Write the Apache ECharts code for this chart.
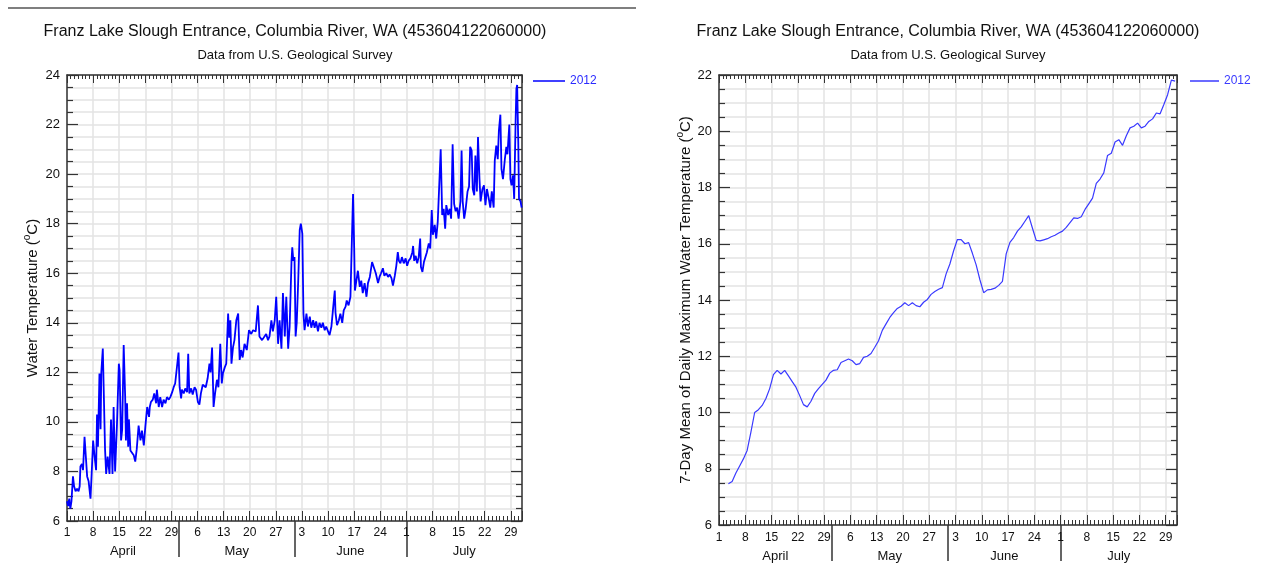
<!DOCTYPE html>
<html>
<head>
<meta charset="utf-8">
<title>Franz Lake Slough Entrance water temperature</title>
<script src="https://cdn.jsdelivr.net/npm/echarts@6/dist/echarts.min.js"></script>
<style>
  html, body { margin: 0; padding: 0; background: #fff; }
  #main { width: 1262px; height: 564px; }
</style>
</head>
<body>
<div id="main"></div>
<script>
// x values are days counted from 1 April 2012 00:00
const monthNames = ["April", "May", "June", "July"];
const monthStarts = [0, 30, 61, 91, 122];
const monthMids = [15, 45.5, 76, 106.5];
const seriesName = "2012";

// water temperature (deg C) as [day, value]
const waterTemp = [
  [0,6.8],[0.3,6.6],[0.6,6.9],[0.9,6.5],[1.2,6.8],[1.6,7.8],[1.9,7.4],[2.3,7.2],[2.7,7.3],[3.1,7.2],
  [3.4,7.4],[3.6,8.2],[4.0,8.3],[4.3,8.05],[4.7,9.4],[5.1,9.4],[5.4,7.8],[5.8,7.6],[6.3,6.9],[6.7,8.2],
  [7.0,9.25],[7.4,8.6],[7.8,8.05],[8.05,10.3],[8.3,9.0],[8.7,11.95],[9.0,9.7],[9.2,12.0],[9.6,12.96],[9.8,12.9],
  [10.2,8.9],[10.5,7.9],[10.9,8.6],[11.4,7.9],[11.8,10.1],[12.2,7.9],[12.5,10.6],[12.9,8.0],[13.4,9.9],[13.9,12.35],
  [14.1,12.1],[14.5,9.25],[14.8,9.7],[15.2,13.1],[15.6,11.0],[15.8,9.25],[16.1,10.75],[16.4,9.0],[16.6,10.1],[17.0,8.85],
  [17.4,8.8],[17.9,8.65],[18.3,8.4],[18.7,8.9],[19.2,9.85],[19.7,9.25],[20.1,9.65],[20.6,9.05],[21.0,9.8],[21.5,10.6],
  [22.0,10.2],[22.2,10.6],[22.5,10.8],[23.0,10.9],[23.4,11.15],[23.9,10.75],[24.1,11.3],[24.6,10.6],[25.0,11.0],[25.5,10.6],
  [25.9,10.9],[26.4,10.75],[26.8,11.0],[27.3,10.9],[27.7,11.0],[28.2,11.2],[28.6,11.4],[29.0,11.55],[29.5,11.5],[29.9,12.8],
  [30.2,11.4],[30.6,10.95],[30.8,11.3],[31.3,11.15],[31.7,11.35],[32.2,11.2],[32.5,12.75],[32.8,11.15],[33.3,11.35],[33.7,11.1],
  [34.2,11.4],[34.6,11.3],[35.1,10.8],[35.5,10.7],[35.9,11.15],[36.4,11.5],[36.8,11.5],[37.2,11.4],[37.7,11.75],[38.2,12.35],
  [38.5,12.0],[38.9,13.0],[39.3,10.6],[39.7,11.15],[40.2,11.7],[40.6,11.4],[41.1,13.15],[41.5,11.55],[41.8,11.95],[42.3,12.2],
  [42.7,12.35],[43.2,14.37],[43.5,13.4],[43.8,14.1],[44.1,12.35],[44.5,13.0],[44.9,13.3],[45.4,14.1],[45.9,14.37],[46.3,12.5],
  [46.7,12.9],[47.1,12.6],[47.6,13.15],[48.2,12.9],[48.8,13.7],[49.4,13.55],[49.9,13.7],[50.6,13.65],[51.2,14.7],[51.6,13.45],
  [52.3,13.3],[52.8,13.35],[53.4,13.55],[53.9,13.3],[54.3,13.45],[54.8,14.1],[55.2,13.65],[55.7,14.1],[56.1,15.05],[56.6,13.15],
  [57.0,14.1],[57.5,12.95],[57.9,15.2],[58.4,13.45],[58.8,15.05],[59.3,12.95],[59.7,13.85],[60.2,16.5],[60.4,17.05],[60.7,16.5],
  [61.0,16.65],[61.3,13.45],[61.6,14.0],[62.0,15.7],[62.4,17.75],[62.7,18.0],[63.1,17.6],[63.4,14.37],[63.7,13.7],[64.2,14.37],
  [64.6,13.85],[65.1,14.25],[65.5,13.8],[66.0,14.1],[66.4,13.8],[66.8,14.05],[67.3,13.65],[67.7,14.0],[68.2,13.8],[68.6,14.0],
  [69.1,13.7],[69.5,13.85],[70.0,13.65],[70.4,13.5],[70.9,13.85],[71.3,14.5],[71.8,15.3],[72.0,14.4],[72.4,13.9],[72.9,14.1],
  [73.3,14.37],[73.8,14.0],[74.2,14.5],[74.7,14.65],[75.0,14.9],[75.5,14.7],[76.0,15.05],[76.4,15.0],[76.7,19.2],[77.0,17.05],
  [77.2,15.3],[77.6,15.7],[78.0,16.1],[78.5,15.45],[78.9,15.7],[79.3,15.2],[79.8,15.6],[80.3,15.05],[80.7,15.6],[81.2,15.85],
  [81.8,16.45],[82.2,16.4],[82.8,16.0],[83.4,15.6],[83.8,15.85],[84.2,16.0],[84.7,16.2],[85.1,15.9],[85.6,16.0],[86.1,15.85],
  [86.5,15.95],[87.0,15.8],[87.4,15.5],[87.9,15.9],[88.3,16.3],[88.7,16.85],[89.0,16.5],[89.4,16.4],[89.8,16.65],[90.3,16.4],
  [90.8,16.6],[91.2,16.3],[91.6,16.5],[92.1,16.6],[92.6,16.85],[92.8,17.1],[93.1,16.5],[93.5,16.7],[93.9,16.4],[94.3,16.65],
  [94.7,17.4],[94.9,16.25],[95.3,16.05],[95.7,16.45],[96.2,16.45],[96.5,16.85],[97.0,17.2],[97.4,17.0],[97.8,18.55],[98.1,17.55],
  [98.6,17.95],[99.0,17.4],[99.4,18.05],[99.8,18.0],[100.2,21.0],[100.6,18.35],[101.0,18.6],[101.4,17.8],[101.7,18.75],[102.2,18.35],
  [102.6,18.6],[103.0,18.2],[103.4,21.2],[103.8,18.8],[104.2,18.5],[104.6,18.65],[105.0,18.2],[105.5,18.9],[105.8,20.95],[106.1,18.9],
  [106.5,18.2],[106.9,18.6],[107.4,19.3],[107.8,19.5],[108.1,21.1],[108.5,20.95],[108.8,19.4],[109.2,19.15],[109.5,20.75],[109.9,19.3],
  [110.2,21.5],[110.6,19.8],[110.9,18.9],[111.4,19.4],[111.8,19.55],[112.2,18.75],[112.6,19.4],[113.1,19.0],[113.5,18.65],[113.9,19.3],
  [114.4,18.65],[114.7,20.55],[115.1,21.15],[115.5,20.6],[115.8,21.75],[116.2,22.4],[116.5,20.2],[116.9,19.8],[117.4,20.6],[117.8,21.1],
  [118.1,20.8],[118.6,22.0],[118.9,19.8],[119.2,19.55],[119.6,19.95],[119.9,19.0],[120.3,22.25],[120.5,23.45],[120.7,23.6],[121.0,21.3],
  [121.2,19.0],[121.6,18.9],[121.9,18.65]
];

// 7-day mean of daily maximum (deg C), one value a day from 3 April (noon)
const firstMeanDay = 2.5;
const maxMean = [
  7.47, 7.55, 7.85, 8.1, 8.35, 8.65, 9.3, 10.0, 10.1, 10.25,
  10.5, 10.85, 11.35, 11.5, 11.37, 11.5, 11.3, 11.1, 10.9, 10.6,
  10.28, 10.2, 10.4, 10.68, 10.85, 11.0, 11.15, 11.4, 11.5, 11.52,
  11.78, 11.84, 11.9, 11.84, 11.7, 11.74, 11.96, 12.0, 12.1, 12.32,
  12.55, 12.92, 13.15, 13.38, 13.55, 13.7, 13.78, 13.9, 13.8, 13.9,
  13.8, 13.76, 13.92, 14.02, 14.2, 14.3, 14.38, 14.44, 14.93, 15.28,
  15.75, 16.15, 16.15, 16.0, 16.04, 15.66, 15.25, 14.72, 14.26, 14.36,
  14.38, 14.42, 14.52, 14.66, 15.64, 16.05, 16.22, 16.45, 16.6, 16.8,
  17.0, 16.55, 16.12, 16.1, 16.14, 16.18, 16.25, 16.3, 16.38, 16.45,
  16.58, 16.75, 16.92, 16.9, 16.96, 17.22, 17.42, 17.62, 18.15, 18.3,
  18.52, 19.14, 19.22, 19.62, 19.7, 19.5, 19.84, 20.12, 20.18, 20.29,
  20.12, 20.18, 20.35, 20.44, 20.65, 20.62, 20.95, 21.3, 21.82, 21.78
];

const FONT = "'Liberation Sans', Arial, sans-serif";
const AXIS = "#333";
const GRIDLINE = "#e3e3e3";
const TITLE = "Franz Lake Slough Entrance, Columbia River, WA (453604122060000)";
const SUBTITLE = "Data from U.S. Geological Survey";

function dayOfMonth(v) {
  if (v >= monthStarts[4]) return "";
  let m = 0;
  while (v >= monthStarts[m + 1]) m++;
  return String(v - monthStarts[m] + 1);
}

// five stacked x axes per grid: daily ticks, weekly ticks+labels, month marks, and the top ticks
function xAxesFor(g, dayMargin, monthMargin) {
  const base = {
    gridIndex: g, type: "value", min: 0, max: 122,
    axisLine: { show: false, onZero: false },
    axisTick: { show: false },
    axisLabel: { show: false },
    splitLine: { show: false }
  };
  const line = { show: true, onZero: false, lineStyle: { color: AXIS, width: 1.5 } };
  return [
    { ...base, position: "bottom", interval: 1, axisLine: line,
      axisTick: { show: true, inside: true, length: 5, lineStyle: { color: AXIS } } },
    { ...base, position: "bottom", interval: 7,
      axisTick: { show: true, inside: true, length: 10, lineStyle: { color: AXIS } },
      axisLabel: { show: true, margin: dayMargin, formatter: dayOfMonth, fontSize: 12, color: "#111" },
      splitLine: { show: true, lineStyle: { color: GRIDLINE, width: 1.5 } } },
    { ...base, position: "bottom",
      axisTick: { show: true, inside: false, length: 36, customValues: monthStarts.slice(1, 4),
                  lineStyle: { color: AXIS, width: 1.5 } },
      axisLabel: { show: true, margin: monthMargin, customValues: monthMids, fontSize: 13, color: "#111",
                   formatter: (v) => monthNames[monthMids.indexOf(v)] || "" } },
    { ...base, position: "top", interval: 1, axisLine: line,
      axisTick: { show: true, inside: true, length: 4, lineStyle: { color: AXIS } } },
    { ...base, position: "top", interval: 7,
      axisTick: { show: true, inside: true, length: 8, lineStyle: { color: AXIS } } }
  ];
}

function yAxesFor(g, yMax, name, nameGap, nameSize) {
  const line = { show: true, onZero: false, lineStyle: { color: AXIS, width: 1.5 } };
  const tick = { show: true, inside: true, length: 11, lineStyle: { color: AXIS, width: 1.2 } };
  const minor = { show: true, splitNumber: 4, length: 6, lineStyle: { color: AXIS, width: 1.2 } };
  return [
    { gridIndex: g, type: "value", position: "left", min: 6, max: yMax, interval: 2,
      name: name, nameLocation: "middle", nameGap: nameGap, nameMoveOverlap: false,
      nameTextStyle: { fontSize: nameSize, color: "#111", lineHeight: 22,
        rich: { sup: { fontSize: 10, lineHeight: 13, verticalAlign: "top", color: "#111" } } },
      axisLine: line, axisTick: tick, minorTick: minor,
      axisLabel: { margin: 7, fontSize: 13, color: "#111" },
      splitLine: { show: true, lineStyle: { color: GRIDLINE, width: 1.5 } },
      minorSplitLine: { show: true, lineStyle: { color: GRIDLINE, width: 1.5 } } },
    { gridIndex: g, type: "value", position: "right", min: 6, max: yMax, interval: 2,
      axisLine: line, axisTick: tick, minorTick: minor,
      axisLabel: { show: false }, splitLine: { show: false } }
  ];
}

function titlesAt(cx) {
  return [
    { text: TITLE, left: cx, top: 24, padding: 0, textAlign: "center",
      textStyle: { fontSize: 16, fontWeight: "normal", color: "#111" } },
    { text: SUBTITLE, left: cx, top: 49, padding: 0, textAlign: "center",
      textStyle: { fontSize: 13, fontWeight: "normal", color: "#111" } }
  ];
}

function legendAt(x, name, color, w) {
  return {
    left: x, top: 70, data: [name], icon: "rect", itemWidth: w, itemHeight: 1.5,
    selectedMode: false, formatter: (n) => n.trim(),
    textStyle: { color: color, fontSize: 12 }
  };
}

const chart = echarts.init(document.getElementById("main"));
chart.setOption({
  animation: false,
  backgroundColor: "#fff",
  textStyle: { fontFamily: FONT },
  title: titlesAt(295).concat(titlesAt(948)),
  legend: [legendAt(528, seriesName, "#2b2bff", 32), legendAt(1185, seriesName + " ", "#3a3aff", 29)],
  grid: [
    { left: 67, top: 75, width: 455, height: 446 },
    { left: 719, top: 75, width: 458, height: 450 }
  ],
  xAxis: xAxesFor(0, 6, 24).concat(xAxesFor(1, 7, 25)),
  yAxis: yAxesFor(0, 24, "Water Temperature ({sup|o}C)", 23, 15)
    .concat(yAxesFor(1, 22, "7-Day Mean of Daily Maximum Water Temperature ({sup|o}C)", 22, 15)),
  graphic: [
    { type: "line", shape: { x1: 8, y1: 8, x2: 636, y2: 8 },
      style: { stroke: "#555", lineWidth: 1.5 } }
  ],
  series: [
    { name: seriesName, type: "line", xAxisIndex: 0, yAxisIndex: 0,
      symbol: "none", data: waterTemp,
      lineStyle: { color: "#0000ff", width: 1.8 }, itemStyle: { color: "#0000ff" } },
    { name: seriesName + " ", type: "line", xAxisIndex: 5, yAxisIndex: 2,
      symbol: "none", data: maxMean.map((v, i) => [firstMeanDay + i, v]),
      lineStyle: { color: "#3a3aff", width: 1.2 }, itemStyle: { color: "#3a3aff" } }
  ]
});
</script>
</body>
</html>
